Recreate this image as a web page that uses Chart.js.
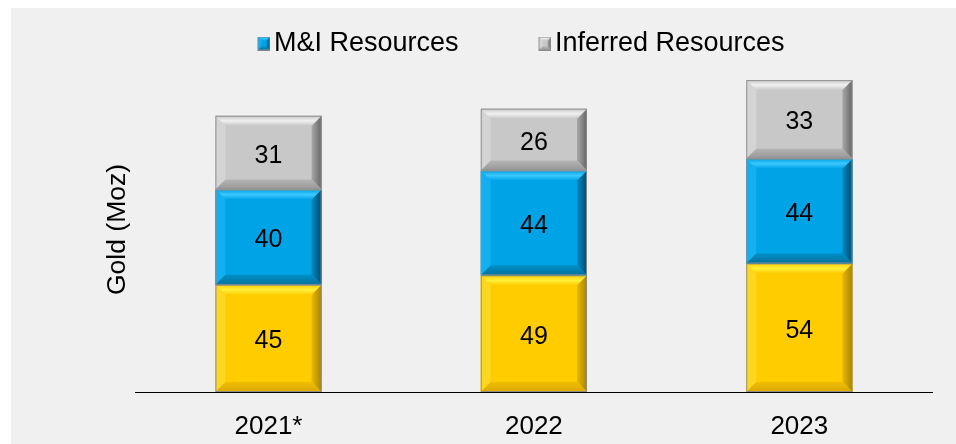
<!DOCTYPE html>
<html>
<head>
<meta charset="utf-8">
<script src="https://cdn.jsdelivr.net/npm/chart.js@4.4.0/dist/chart.umd.min.js"></script>
<style>
    html, body { margin: 0; padding: 0; background: #ffffff; }
    #panel { position: absolute; left: 11px; top: 8px; width: 945px; height: 436px; background: #f0f0f0; }
</style>
</head>
<body>
<div id="panel"><canvas id="goldChart" width="945" height="436"></canvas></div>
<script>
const years = ['2021*', '2022', '2023'];
const reserves = [45, 49, 54];
const miResources = [40, 44, 44];
const inferredResources = [31, 26, 33];

const FONT = '"Liberation Sans", Arial, sans-serif';

// face, top, left, right (inner/outer), bottom (inner/outer)
const palettes = {
    yellow: { face: '#ffcc00', top: '#fff03a', left: '#ffd620', rightIn: '#e8b800', rightOut: '#a88400', botIn: '#f0be00', botOut: '#d8a800' },
    blue: { face: '#00a3e6', top: '#3cc8ff', left: '#12b0f0', rightIn: '#0088c0', rightOut: '#004c70', botIn: '#0090c8', botOut: '#00709c' },
    gray: { face: '#c8c8c8', top: '#f0f0f0', left: '#d4d4d4', rightIn: '#a8a8a8', rightOut: '#666666', botIn: '#b4b4b4', botOut: '#969696' }
};

function drawBevel(ctx, L, T, R, B, p, b) {
    const poly = (pts, fill) => {
        ctx.beginPath();
        ctx.moveTo(pts[0][0], pts[0][1]);
        for (let i = 1; i < pts.length; i++) ctx.lineTo(pts[i][0], pts[i][1]);
        ctx.closePath();
        ctx.fillStyle = fill;
        ctx.fill();
    };
    poly([[L, T], [R, T], [R, B], [L, B]], p.face);
    poly([[L, T], [L + b, T + b], [L + b, B - b], [L, B]], p.left);
    let g = ctx.createLinearGradient(R - b, 0, R, 0);
    g.addColorStop(0, p.rightIn);
    g.addColorStop(1, p.rightOut);
    poly([[R, T], [R, B], [R - b, B - b], [R - b, T + b]], g);
    g = ctx.createLinearGradient(0, B - b, 0, B);
    g.addColorStop(0, p.botIn);
    g.addColorStop(1, p.botOut);
    poly([[L, B], [R, B], [R - b, B - b], [L + b, B - b]], g);
    g = ctx.createLinearGradient(0, T, 0, T + b);
    g.addColorStop(0, p.face);
    g.addColorStop(0.5, p.top);
    g.addColorStop(1, p.face);
    poly([[L, T], [R, T], [R - b, T + b], [L + b, T + b]], g);
    ctx.strokeStyle = 'rgba(140,140,140,0.9)';
    ctx.lineWidth = 1;
    ctx.strokeRect(L + 0.5, T + 0.5, R - L - 1, B - T - 1);
}

// legend swatch, square drawn at the right end so it sits close to the text
function makeSwatch(p) {
    const c = document.createElement('canvas');
    c.width = 33;
    c.height = 14;
    const cx = c.getContext('2d');
    drawBevel(cx, 20, 0, 33, 14, p, 4);
    return c;
}

const bevelPlugin = {
    id: 'bevelBars',
    afterDatasetsDraw(chart) {
        const ctx = chart.ctx;
        ctx.save();
        chart.data.datasets.forEach((ds, i) => {
            const meta = chart.getDatasetMeta(i);
            meta.data.forEach((bar, j) => {
                const L = bar.x - bar.width / 2;
                const R = bar.x + bar.width / 2;
                const T = Math.min(bar.y, bar.base);
                const B = Math.max(bar.y, bar.base);
                drawBevel(ctx, L, T, R, B, palettes[ds.palette], 10);
                ctx.fillStyle = '#000000';
                ctx.font = '25px ' + FONT;
                ctx.textAlign = 'center';
                ctx.textBaseline = 'middle';
                ctx.fillText(String(ds.data[j]), bar.x, (T + B) / 2 + 3);
            });
        });
        ctx.restore();
    }
};

const ctx = document.getElementById('goldChart').getContext('2d');
const goldChart = new Chart(ctx, {
    type: 'bar',
    data: {
        labels: years,
        datasets: [
            { label: 'Reserves', data: reserves, palette: 'yellow', backgroundColor: palettes.yellow.face },
            { label: 'M&I Resources', data: miResources, palette: 'blue', backgroundColor: palettes.blue.face },
            { label: 'Inferred Resources', data: inferredResources, palette: 'gray', backgroundColor: palettes.gray.face }
        ]
    },
    options: {
        responsive: false,
        animation: false,
        categoryPercentage: 1,
        barPercentage: 0.4,
        layout: {
            padding: { left: 89, right: 24, top: 12, bottom: 6 }
        },
        plugins: {
            tooltip: { enabled: false },
            legend: {
                display: true,
                position: 'top',
                labels: {
                    usePointStyle: true,
                    boxWidth: 13,
                    boxHeight: 13,
                    padding: 10,
                    color: '#000000',
                    font: { family: FONT, size: 27 },
                    generateLabels(chart) {
                        return chart.data.datasets.slice(1).map((ds, k) => ({
                            text: k === 0 ? ds.label + '        ' : ds.label,
                            pointStyle: makeSwatch(palettes[ds.palette]),
                            fillStyle: ds.backgroundColor,
                            strokeStyle: ds.backgroundColor,
                            lineWidth: 0,
                            hidden: false,
                            datasetIndex: k + 1
                        }));
                    }
                }
            }
        },
        scales: {
            x: {
                stacked: true,
                grid: { display: false, drawTicks: false },
                border: { display: true, color: '#000000', width: 1 },
                ticks: {
                    padding: 19,
                    maxRotation: 0,
                    color: '#000000',
                    font: { family: FONT, size: 26 }
                },
                afterFit(scale) {
                    scale.height = 46;
                }
            },
            y: {
                stacked: true,
                min: 0,
                max: 136.5,
                grid: { display: false, drawTicks: false },
                border: { display: false },
                ticks: { display: false },
                title: {
                    display: true,
                    text: 'Gold (Moz)',
                    color: '#000000',
                    padding: { top: 2, bottom: 2 },
                    font: { family: FONT, size: 26.5 }
                }
            }
        }
    },
    plugins: [bevelPlugin]
});
</script>
</body>
</html>
